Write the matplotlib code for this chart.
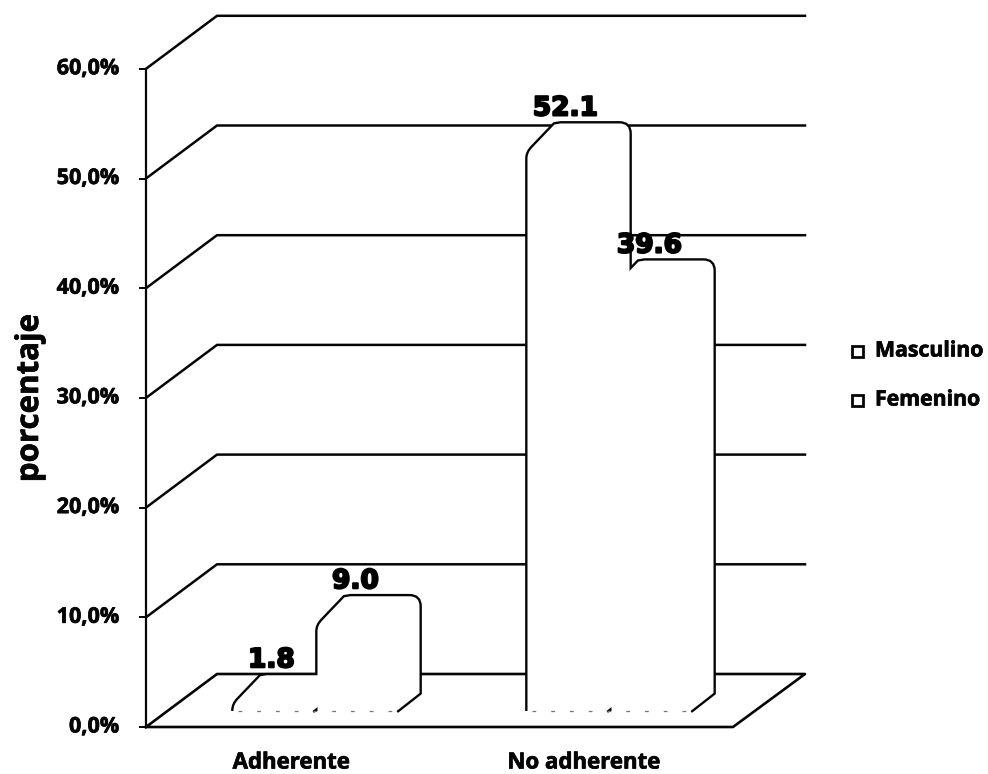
import matplotlib
matplotlib.use("Agg")
import matplotlib.pyplot as plt
from matplotlib.patches import PathPatch, Rectangle
from matplotlib.path import Path
import matplotlib.patheffects as pe

categories = ["Adherente", "No adherente"]
series_names = ["Masculino", "Femenino"]
masculino = [1.8, 52.1]
femenino = [9.0, 39.6]
yticks = [0, 10, 20, 30, 40, 50, 60]

W, H = 988, 774
fig = plt.figure(figsize=(W / 100, H / 100), dpi=100)
ax = fig.add_axes([0, 0, 1, 1])
ax.set_xlim(0, W)
ax.set_ylim(H, 0)
ax.axis("off")

# pseudo 3D geometry, pixels
x0 = 146
y0 = 727
per10 = 109.7
dx = 71
dy = -53
right = 805
bar_lift = 32
bar_w = 102
bar_step = 84
bar_bottom = 711
base_left = [233.5, 527.5]

ink = "#050505"
heavy = [pe.withStroke(linewidth=0.5, foreground=ink)]
heavier = [pe.withStroke(linewidth=1.5, foreground="k")]


def val_y(v):
    return y0 - v * per10 / 10


# gridlines: slanted side wall + back wall
for v in yticks:
    y = val_y(v)
    if v > 0:
        ax.plot([x0, x0 + dx, right], [y, y + dy, y + dy], color=ink, lw=1.8, zorder=1)
    ax.plot([x0 - 6, x0], [y, y], color=ink, lw=1.4, zorder=1)
ax.plot([x0, x0], [val_y(60), y0], color=ink, lw=1.6, zorder=1)

# floor
floor = [(x0, y0), (x0 + dx, y0 + dy), (right, y0 + dy), (733, y0), (x0, y0)]
ax.plot(*zip(*floor), color=ink, lw=1.9, zorder=1)


def bar_path(left, v, closed=False):
    top = val_y(v) - bar_lift
    front = top + 29
    r = left + bar_w
    verts = [
        (left, bar_bottom),
        (left, front + 6),
        (left, front),
        (left + 5, front - 5),
        (left + 27, top + 1),
        (left + 33, top),
        (r - 10, top),
        (r, top),
        (r, top + 10),
        (r, bar_bottom - 18),
        (r - 23, bar_bottom),
    ]
    codes = [Path.MOVETO, Path.LINETO, Path.CURVE3, Path.CURVE3, Path.LINETO,
             Path.LINETO, Path.LINETO, Path.CURVE3, Path.CURVE3, Path.LINETO, Path.LINETO]
    if closed:
        verts = verts + [(left, bar_bottom)]
        codes = codes + [Path.CLOSEPOLY]
    return Path(verts, codes)


# only the silhouette shows: strokes first, then all the white fills above them
for i in range(2):
    for left, v in [(base_left[i], masculino[i]), (base_left[i] + bar_step, femenino[i])]:
        ax.add_patch(PathPatch(bar_path(left, v), fc="none", ec=ink, lw=3.4, zorder=3))
        ax.add_patch(PathPatch(bar_path(left, v, closed=True), fc="w", ec="none", zorder=4))

    # bottom edge is almost lost in the original
    ax.plot([base_left[i] + 4, base_left[i] + bar_step + bar_w - 24], [bar_bottom, bar_bottom],
            color="#777777", lw=0.9, ls=(0, (3, 12)), zorder=5)

    lab_font = dict(ha="center", va="center", fontsize=19, fontweight="bold",
                    family="DejaVu Sans", color="k", zorder=6, path_effects=heavier)
    ax.text(base_left[i] + 38, val_y(masculino[i]) - bar_lift - 15, "%.1f" % masculino[i], **lab_font)
    ax.text(base_left[i] + bar_step + 38, val_y(femenino[i]) - bar_lift - 15, "%.1f" % femenino[i], **lab_font)

for v in yticks:
    lab = ("%.1f%%" % v).replace(".", ",")
    ax.text(119, val_y(v), lab, ha="right", va="center", fontsize=15.5,
            fontweight="bold", family="Open Sans", color=ink, path_effects=heavy)

ax.text(30, 398, "porcentaje", rotation=90, ha="center", va="center",
        fontsize=22.5, fontweight="bold", family="Open Sans", color=ink, path_effects=heavy)

for xc, cat in zip([291.5, 584], categories):
    ax.text(xc, 763, cat, ha="center", va="center", fontsize=16,
            fontweight="bold", family="Open Sans", color=ink, path_effects=heavy)

for yl, name in zip([351, 400], series_names):
    ax.add_patch(Rectangle((852, yl - 5.5), 11, 11, fc="w", ec=ink, lw=2.0, zorder=3))
    ax.text(875, yl, name, ha="left", va="center", fontsize=15.3,
            fontweight="bold", family="Open Sans", color=ink, path_effects=heavy)

fig.savefig("out.png", dpi=100)
